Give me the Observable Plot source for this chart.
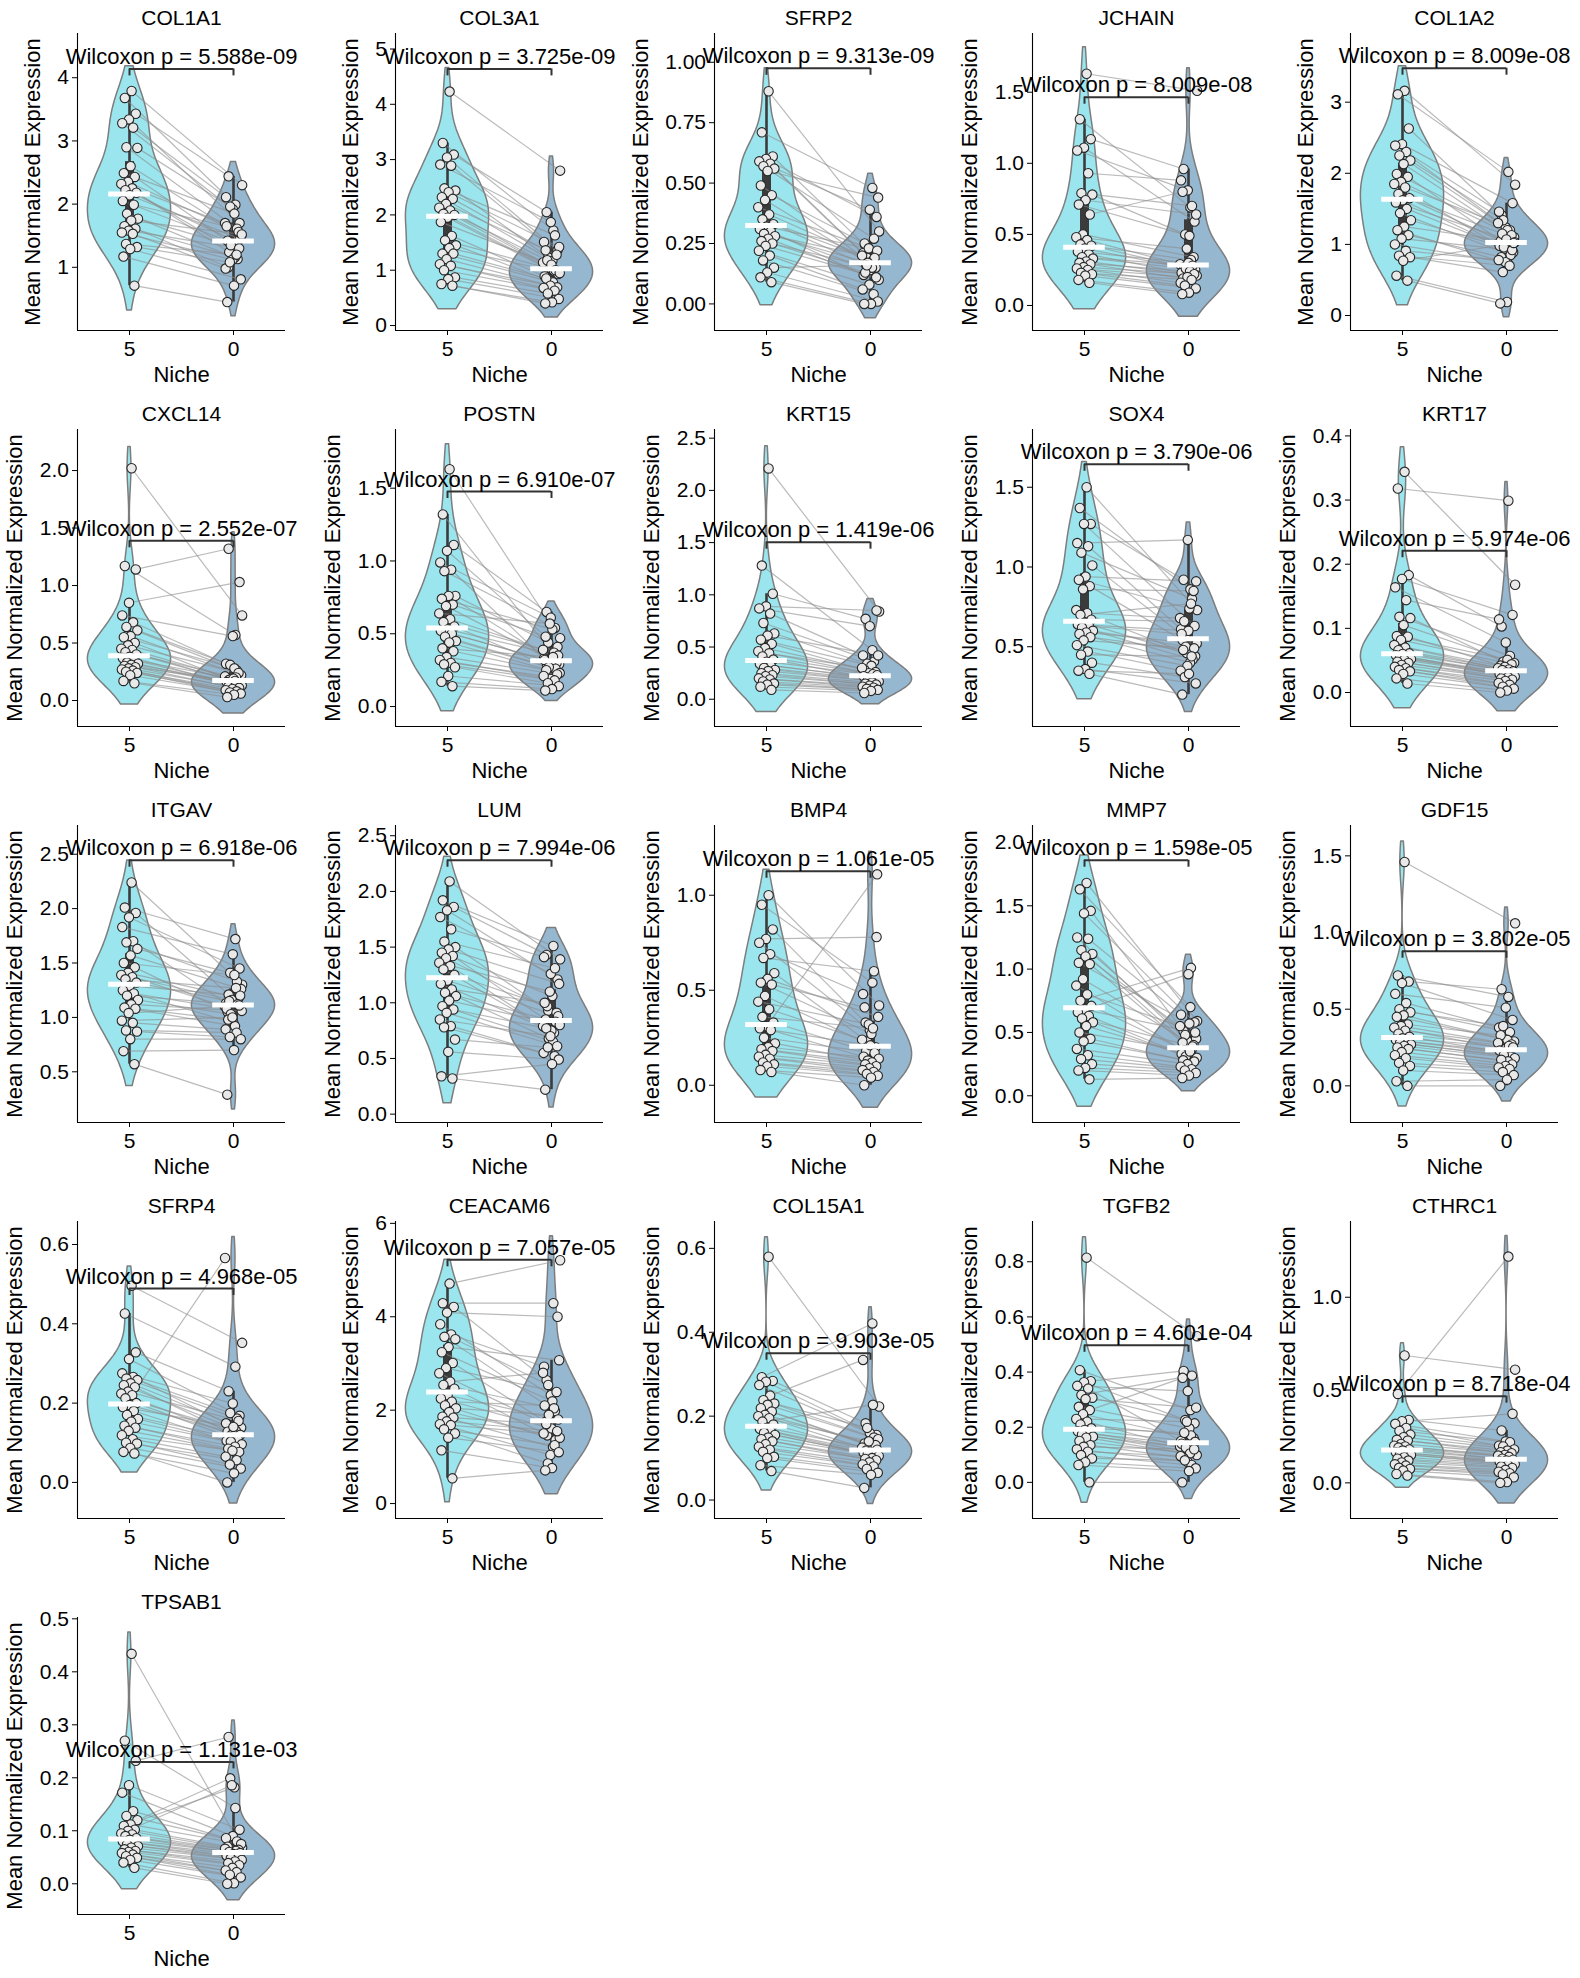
<!DOCTYPE html>
<html>
<head>
<meta charset="utf-8">
<script src="https://cdn.jsdelivr.net/npm/d3@7"></script>
<script src="https://cdn.jsdelivr.net/npm/@observablehq/plot@0.6"></script>
<style>
  body { margin: 0; background: #fff; }
  #grid { position: relative; width: 1580px; height: 1978px; background: #fff; }
  .panel { position: absolute; width: 318px; height: 396px; }
  .panel svg { max-width: none !important; }
</style>
</head>
<body>
<div id="grid"></div>
<script>
// Genes (one panel each), in reading order
const genes = ["COL1A1","COL3A1","SFRP2","JCHAIN","COL1A2",
  "CXCL14","POSTN","KRT15","SOX4","KRT17",
  "ITGAV","LUM","BMP4","MMP7","GDF15",
  "SFRP4","CEACAM6","COL15A1","TGFB2","CTHRC1",
  "TPSAB1"];

// Paired Wilcoxon test p-values as printed
const pLabels = ["5.588e-09","3.725e-09","9.313e-09","8.009e-08","8.009e-08",
  "2.552e-07","6.910e-07","1.419e-06","3.790e-06","5.974e-06",
  "6.918e-06","7.994e-06","1.061e-05","1.598e-05","3.802e-05",
  "4.968e-05","7.057e-05","9.903e-05","4.601e-04","8.718e-04",
  "1.131e-03"];

// Niche categories on the x axis
const niches = ["5", "0"];

// Mean normalized expression per sample in niche 5 (same sample order as niche 0)
const niche5 = [
  [3.79,3.68,3.43,3.34,3.28,3.21,2.90,2.89,2.60,2.49,2.43,2.35,2.32,2.25,2.22,2.18,2.14,2.05,1.99,1.85,1.77,1.74,1.65,1.61,1.58,1.55,1.53,1.37,1.32,1.29,1.17,0.71],
  [4.23,3.30,3.09,3.04,2.91,2.89,2.48,2.44,2.41,2.32,2.29,2.20,2.13,2.08,2.02,2.00,1.95,1.87,1.62,1.54,1.45,1.40,1.30,1.30,1.20,1.11,1.08,1.00,0.87,0.84,0.75,0.72],
  [0.88,0.71,0.61,0.60,0.59,0.58,0.57,0.56,0.55,0.49,0.45,0.43,0.40,0.37,0.35,0.33,0.32,0.31,0.30,0.29,0.28,0.27,0.26,0.25,0.24,0.22,0.20,0.18,0.15,0.13,0.11,0.09],
  [1.63,1.31,1.17,1.11,1.09,0.93,0.79,0.78,0.74,0.71,0.64,0.50,0.48,0.46,0.43,0.42,0.40,0.38,0.36,0.34,0.33,0.31,0.30,0.29,0.27,0.26,0.25,0.23,0.22,0.21,0.18,0.16],
  [3.16,3.11,2.63,2.41,2.39,2.30,2.25,2.18,2.13,1.99,1.95,1.88,1.85,1.80,1.71,1.65,1.62,1.59,1.50,1.44,1.34,1.25,1.20,1.13,1.08,1.00,0.91,0.84,0.82,0.77,0.56,0.49],
  [2.02,1.17,1.14,0.85,0.74,0.68,0.64,0.61,0.56,0.55,0.50,0.48,0.45,0.44,0.42,0.40,0.38,0.37,0.35,0.33,0.32,0.31,0.30,0.29,0.28,0.27,0.26,0.25,0.24,0.22,0.17,0.15],
  [1.63,1.32,1.11,1.07,0.99,0.94,0.93,0.76,0.76,0.74,0.70,0.69,0.64,0.60,0.58,0.55,0.53,0.52,0.50,0.48,0.45,0.44,0.40,0.38,0.34,0.32,0.30,0.29,0.27,0.21,0.17,0.14],
  [2.21,1.28,1.01,0.89,0.87,0.82,0.73,0.63,0.61,0.57,0.53,0.49,0.46,0.44,0.41,0.38,0.36,0.34,0.32,0.30,0.28,0.27,0.25,0.23,0.22,0.20,0.19,0.17,0.15,0.14,0.12,0.09],
  [1.50,1.37,1.27,1.27,1.15,1.13,1.09,1.01,0.94,0.92,0.88,0.86,0.73,0.71,0.70,0.67,0.65,0.64,0.63,0.62,0.60,0.59,0.58,0.56,0.54,0.51,0.47,0.45,0.40,0.36,0.35,0.33],
  [0.344,0.318,0.183,0.177,0.164,0.144,0.118,0.116,0.105,0.088,0.087,0.082,0.074,0.070,0.066,0.061,0.060,0.058,0.056,0.054,0.052,0.051,0.048,0.046,0.043,0.040,0.038,0.035,0.033,0.029,0.022,0.014],
  [2.24,2.01,1.96,1.92,1.83,1.70,1.69,1.63,1.57,1.50,1.46,1.41,1.39,1.37,1.35,1.32,1.29,1.25,1.22,1.20,1.16,1.12,1.09,1.08,1.04,0.97,0.95,0.88,0.87,0.80,0.69,0.57],
  [2.09,1.92,1.86,1.83,1.77,1.66,1.55,1.50,1.48,1.45,1.42,1.40,1.36,1.33,1.30,1.25,1.20,1.17,1.12,1.09,1.06,1.02,0.97,0.94,0.91,0.85,0.79,0.78,0.67,0.56,0.34,0.32],
  [1.00,0.95,0.82,0.77,0.75,0.69,0.67,0.59,0.56,0.54,0.53,0.47,0.44,0.40,0.36,0.33,0.31,0.30,0.29,0.25,0.22,0.20,0.19,0.18,0.16,0.15,0.14,0.12,0.11,0.10,0.08,0.07],
  [1.68,1.63,1.46,1.44,1.25,1.24,1.15,1.12,1.10,1.05,1.04,0.92,0.87,0.80,0.75,0.71,0.68,0.66,0.63,0.61,0.58,0.55,0.50,0.45,0.43,0.37,0.32,0.29,0.25,0.22,0.20,0.13],
  [1.46,0.72,0.68,0.67,0.60,0.54,0.50,0.48,0.46,0.45,0.40,0.39,0.38,0.36,0.34,0.32,0.31,0.30,0.29,0.28,0.27,0.26,0.25,0.24,0.22,0.20,0.18,0.15,0.13,0.10,0.03,0.00],
  [0.496,0.426,0.328,0.311,0.275,0.266,0.262,0.258,0.25,0.245,0.24,0.229,0.224,0.22,0.212,0.2,0.195,0.19,0.18,0.17,0.16,0.153,0.143,0.138,0.13,0.119,0.109,0.1,0.098,0.087,0.077,0.073],
  [4.71,4.29,4.21,4.09,3.84,3.62,3.57,3.52,3.35,3.24,3.01,2.90,2.79,2.61,2.54,2.46,2.32,2.25,2.18,2.10,2.04,1.96,1.86,1.84,1.76,1.70,1.68,1.59,1.50,1.41,1.14,0.54],
  [0.58,0.293,0.284,0.282,0.274,0.249,0.238,0.23,0.227,0.219,0.211,0.203,0.2,0.195,0.187,0.18,0.172,0.17,0.163,0.16,0.155,0.149,0.145,0.14,0.133,0.127,0.12,0.115,0.103,0.1,0.083,0.069],
  [0.815,0.407,0.367,0.363,0.35,0.34,0.317,0.307,0.302,0.274,0.262,0.247,0.23,0.22,0.21,0.196,0.19,0.185,0.178,0.174,0.166,0.162,0.15,0.135,0.129,0.12,0.111,0.099,0.087,0.073,0.063,0.0],
  [0.686,0.479,0.339,0.332,0.318,0.296,0.28,0.26,0.246,0.232,0.228,0.21,0.2,0.196,0.19,0.18,0.174,0.165,0.16,0.153,0.15,0.138,0.13,0.12,0.11,0.1,0.093,0.081,0.075,0.066,0.048,0.039],
  [0.434,0.27,0.232,0.186,0.172,0.137,0.128,0.12,0.112,0.109,0.102,0.1,0.095,0.093,0.09,0.086,0.083,0.08,0.077,0.074,0.071,0.068,0.065,0.062,0.06,0.058,0.055,0.052,0.049,0.045,0.04,0.03]
];

// Mean normalized expression per sample in niche 0 (paired with niche5 by index)
const niche0 = [
  [2.30,1.99,2.44,1.70,1.92,2.11,1.61,1.96,1.50,1.85,1.42,1.56,1.29,1.70,1.41,1.24,1.45,1.38,1.65,1.13,1.35,1.52,1.16,1.00,1.30,1.12,0.98,1.20,1.08,0.81,0.71,0.45],
  [2.80,1.72,2.05,1.36,1.87,1.51,1.63,1.23,1.42,1.17,1.36,1.28,1.05,1.14,0.99,1.18,0.93,1.10,0.89,1.00,0.81,0.95,0.78,0.85,0.69,0.72,0.68,0.63,0.58,0.48,0.42,0.40],
  [0.30,0.48,0.24,0.36,0.39,0.21,0.27,0.19,0.44,0.17,0.25,0.15,0.23,0.20,0.18,0.16,0.22,0.14,0.12,0.19,0.17,0.10,0.15,0.13,0.11,0.08,0.06,0.04,0.16,0.01,0.00,0.00],
  [1.51,0.69,0.96,0.59,0.81,0.88,0.70,0.50,0.64,0.49,0.80,0.34,0.40,0.29,0.32,0.27,0.25,0.30,0.23,0.28,0.26,0.21,0.24,0.19,0.22,0.20,0.16,0.18,0.14,0.12,0.09,0.08],
  [1.84,2.02,1.41,1.58,1.24,1.46,1.20,1.34,1.10,1.20,1.05,1.13,0.94,1.30,1.00,1.15,0.89,1.07,0.98,0.85,0.96,1.03,0.73,0.82,0.92,0.75,0.78,0.70,0.61,1.02,0.19,0.17],
  [0.74,0.57,1.32,1.03,0.56,0.32,0.26,0.31,0.22,0.28,0.19,0.24,0.17,0.21,0.20,0.18,0.12,0.19,0.16,0.15,0.14,0.13,0.17,0.12,0.11,0.10,0.09,0.08,0.07,0.06,0.05,0.03],
  [0.47,0.36,0.65,0.41,0.61,0.33,0.54,0.44,0.29,0.53,0.48,0.30,0.57,0.39,0.37,0.28,0.35,0.31,0.32,0.26,0.27,0.23,0.34,0.25,0.22,0.19,0.21,0.18,0.16,0.14,0.12,0.11],
  [0.84,0.47,0.77,0.85,0.70,0.42,0.36,0.34,0.42,0.32,0.28,0.26,0.25,0.30,0.24,0.21,0.23,0.20,0.22,0.19,0.18,0.17,0.16,0.15,0.14,0.13,0.12,0.11,0.10,0.09,0.08,0.06],
  [0.73,0.86,0.92,0.63,1.17,0.61,0.80,0.56,0.91,0.74,0.54,0.85,0.46,0.68,0.77,0.66,0.44,0.60,0.58,0.42,0.50,0.52,0.40,0.48,0.49,0.38,0.35,0.44,0.31,0.27,0.33,0.20],
  [0.168,0.299,0.103,0.121,0.078,0.114,0.057,0.048,0.046,0.051,0.042,0.044,0.040,0.038,0.036,0.035,0.033,0.031,0.029,0.030,0.027,0.025,0.024,0.022,0.020,0.018,0.015,0.012,0.009,0.006,0.003,0.000],
  [1.30,1.72,1.21,1.45,1.58,1.13,1.33,1.41,1.26,1.39,1.05,1.18,1.16,1.10,1.27,1.15,1.20,0.95,1.08,1.12,1.03,1.06,0.92,0.98,1.11,1.00,0.89,0.86,0.82,0.80,0.70,0.29],
  [1.39,1.51,1.43,1.21,1.26,1.41,1.31,0.93,1.17,1.06,0.85,0.91,1.10,0.79,0.73,0.97,0.88,0.75,1.00,0.83,0.68,0.80,0.65,0.77,0.61,0.70,0.55,0.52,0.60,0.49,0.45,0.22],
  [0.42,0.54,0.33,0.78,0.29,0.48,0.60,0.23,0.36,0.27,0.41,0.20,0.32,0.24,0.30,0.18,1.11,0.21,0.15,0.17,0.13,0.14,0.12,0.11,0.10,0.09,0.08,0.07,0.06,0.05,0.04,0.00],
  [0.59,0.70,0.51,0.58,0.43,0.64,0.37,0.48,0.45,0.57,0.42,0.40,0.34,0.55,1.01,0.36,0.50,0.96,0.33,0.39,0.31,0.30,0.35,0.28,0.27,0.25,0.23,0.21,0.20,0.18,0.16,0.14],
  [1.06,0.58,0.63,0.43,0.51,0.38,0.35,0.39,0.29,0.30,0.33,0.27,0.24,0.28,0.26,0.22,0.25,0.21,0.23,0.19,0.20,0.18,0.16,0.17,0.14,0.13,0.12,0.11,0.09,0.07,0.04,0.00],
  [0.352,0.292,0.23,0.168,0.199,0.149,0.161,0.175,0.138,0.135,0.128,0.155,0.12,0.566,0.13,0.115,0.12,0.14,0.105,0.11,0.103,0.096,0.09,0.085,0.077,0.08,0.065,0.056,0.045,0.035,0.023,0.0],
  [5.21,4.29,2.64,4.00,2.32,2.93,1.98,2.54,3.07,2.19,1.75,2.39,1.66,2.80,2.04,1.46,1.80,1.61,2.10,1.36,1.90,1.41,1.21,1.70,1.55,1.04,1.50,1.25,0.86,1.10,0.76,0.71],
  [0.223,0.421,0.183,0.155,0.16,0.334,0.149,0.172,0.145,0.128,0.135,0.131,0.14,0.125,0.227,0.118,0.12,0.115,0.113,0.107,0.11,0.105,0.1,0.098,0.095,0.09,0.085,0.08,0.074,0.065,0.06,0.029],
  [0.53,0.262,0.404,0.214,0.331,0.15,0.387,0.226,0.271,0.196,0.379,0.16,0.22,0.13,0.17,0.18,0.147,0.123,0.14,0.11,0.126,0.099,0.105,0.089,0.12,0.075,0.095,0.063,0.08,0.051,0.041,0.0],
  [0.61,1.219,0.282,0.372,0.224,0.2,0.219,0.196,0.18,0.174,0.165,0.16,0.15,0.147,0.14,0.13,0.125,0.12,0.115,0.11,0.106,0.1,0.095,0.088,0.08,0.07,0.06,0.052,0.045,0.03,0.004,0.0],
  [0.068,0.143,0.277,0.102,0.09,0.086,0.08,0.199,0.075,0.182,0.07,0.064,0.186,0.066,0.062,0.06,0.058,0.056,0.053,0.05,0.048,0.045,0.042,0.039,0.035,0.03,0.025,0.022,0.017,0.012,0.001,0.0]
];

// y-axis range, ticks and tick decimals per panel
const yDomains = [[0.0,4.70],[-0.09,5.28],[-0.110,1.119],[-0.176,1.913],[-0.211,3.966],
  [-0.226,2.357],[-0.137,1.903],[-0.261,2.583],[0.0,1.862],[-0.053,0.41],
  [0.034,2.764],[-0.075,2.592],[-0.196,1.367],[-0.211,2.134],[-0.239,1.698],
  [-0.091,0.658],[-0.32,6.04],[-0.044,0.664],[-0.131,0.946],[-0.192,1.408],
  [-0.058,0.5025]];
const yTicks = [[1,2,3,4],[0,1,2,3,4,5],[0,0.25,0.5,0.75,1],[0,0.5,1,1.5],[0,1,2,3],
  [0,0.5,1,1.5,2],[0,0.5,1,1.5],[0,0.5,1,1.5,2,2.5],[0.5,1,1.5],[0,0.1,0.2,0.3,0.4],
  [0.5,1,1.5,2,2.5],[0,0.5,1,1.5,2,2.5],[0,0.5,1],[0,0.5,1,1.5,2],[0,0.5,1,1.5],
  [0,0.2,0.4,0.6],[0,2,4,6],[0,0.2,0.4,0.6],[0,0.2,0.4,0.6,0.8],[0,0.5,1],
  [0,0.1,0.2,0.3,0.4,0.5]];
const tickDecimals = [0,0,2,1,0, 1,1,1,1,1, 1,1,1,1,1, 1,0,1,1,1, 1];

// Height of the significance bracket in each panel
const bracketY = [4.14,4.64,0.975,1.465,3.478,
  1.389,1.477,1.504,1.644,0.221,
  2.445,2.28,1.126,1.86,0.878,
  0.489,5.22,0.35,0.497,0.467,
  0.23];

const FONT = "'Liberation Sans', Arial, Helvetica, sans-serif";
const TICK_FONT = 21;
const fills = ["#9be6ee", "#95b7d0"];
const edge = "#7d7d7d";
const boxColor = "#3b3b3b";

// width of the widest tick label, used to set the y-label off from it
const measureCtx = document.createElement("canvas").getContext("2d");
measureCtx.font = `${TICK_FONT}px ${FONT}`;

// Gaussian KDE (Scott bandwidth), cut at one bandwidth, width-normalised
function violinShape(values, center) {
  const n = values.length;
  const bw = d3.deviation(values) * Math.pow(n, -0.2);
  const lo = d3.min(values) - bw, hi = d3.max(values) + bw;
  const grid = d3.range(100).map(i => lo + (hi - lo) * i / 99);
  const dens = grid.map(y => d3.sum(values, v => Math.exp(-0.5 * ((y - v) / bw) ** 2)));
  const peak = d3.max(dens);
  return grid.map((y, i) => ({y, x1: center - 0.4 * dens[i] / peak, x2: center + 0.4 * dens[i] / peak}));
}

function boxStats(values, center) {
  const s = values.slice().sort(d3.ascending);
  const q1 = d3.quantileSorted(s, 0.25), med = d3.quantileSorted(s, 0.5), q3 = d3.quantileSorted(s, 0.75);
  const lim = 1.5 * (q3 - q1);
  const lo = d3.min(s.filter(v => v >= q1 - lim));
  const hi = d3.max(s.filter(v => v <= q3 + lim));
  return {x: center, q1, med, q3, lo, hi};
}

// deterministic horizontal spread of the strip points
const spread = (i, g) => ((((i + 1) * 0.6180339887 + g * 0.37) % 1) - 0.5) * 0.17;

function panel(k) {
  const groups = [niche5[k], niche0[k]];
  const pts = groups.flatMap((vals, g) => vals.map((v, i) => ({x: g + spread(i, g), y: v, g, i})));
  const n = Math.min(groups[0].length, groups[1].length);
  const pairs = d3.range(n).map(i => ({
    x1: spread(i, 0), y1: groups[0][i],
    x2: 1 + spread(i, 1), y2: groups[1][i]
  }));
  const stats = groups.map((vals, g) => boxStats(vals, g));
  const b = bracketY[k];
  const dec = tickDecimals[k];
  const fmt = d => d.toFixed(dec);
  const tickW = d3.max(yTicks[k], t => measureCtx.measureText(fmt(t)).width);

  return Plot.plot({
    width: 318, height: 396,
    marginLeft: 77, marginRight: 33, marginTop: 33, marginBottom: 66,
    style: {fontFamily: FONT, fontSize: `${TICK_FONT}px`, color: "#000", background: "transparent", overflow: "visible", maxWidth: "none"},
    x: {domain: [-0.5, 1.5], label: null},
    y: {domain: yDomains[k], label: null},
    marks: [
      ...groups.map((vals, g) => Plot.areaX(violinShape(vals, g), {
        y: "y", x1: "x1", x2: "x2", fill: fills[g], stroke: edge, strokeWidth: 1.5, curve: "linear"
      })),
      Plot.ruleX(stats, {x: "x", y1: "lo", y2: "hi", stroke: boxColor, strokeWidth: 2.6}),
      Plot.ruleX(stats, {x: "x", y1: "q1", y2: "q3", stroke: boxColor, strokeWidth: 9}),
      Plot.link(pairs, {x1: "x1", y1: "y1", x2: "x2", y2: "y2", stroke: "#8c8c8c", strokeOpacity: 0.6, strokeWidth: 1.2}),
      Plot.dot(pts, {x: "x", y: "y", r: 4.7, fill: "#e9e9e9", stroke: "#262626", strokeWidth: 1.1}),
      Plot.ruleY(stats, {y: "med", x1: d => d.x - 0.2, x2: d => d.x + 0.2, stroke: "#ffffff", strokeWidth: 5}),
      // spines
      Plot.ruleX([-0.5], {stroke: "#000", strokeWidth: 1.1}),
      Plot.ruleY([yDomains[k][0]], {stroke: "#000", strokeWidth: 1.1}),
      Plot.axisX({ticks: [0, 1], tickFormat: i => niches[i], tickSize: 5, tickPadding: 6, fontSize: TICK_FONT, label: null, stroke: "#000"}),
      Plot.axisY({ticks: yTicks[k], tickFormat: fmt, tickSize: 5, tickPadding: 3.5, fontSize: TICK_FONT, label: null, stroke: "#000"}),
      // significance bracket
      Plot.ruleY([b], {x1: 0, x2: 1, stroke: "#333", strokeWidth: 2}),
      Plot.ruleX([0, 1], {y1: b, y2: b, insetBottom: -7, stroke: "#333", strokeWidth: 2}),
      Plot.text([`Wilcoxon p = ${pLabels[k]}`], {x: 0.5, y: b, text: d => d, lineAnchor: "bottom", dy: -5, fontSize: 22, fill: "#000"}),
      // titles
      Plot.text([genes[k]], {frameAnchor: "top", text: d => d, lineAnchor: "bottom", dy: -9, fontSize: 21, fill: "#000"}),
      Plot.text(["Niche"], {frameAnchor: "bottom", text: d => d, lineAnchor: "bottom", dy: 51, fontSize: 22, fill: "#000"}),
      Plot.text(["Mean Normalized Expression"], {frameAnchor: "left", text: d => d, rotate: -90, textAnchor: "middle", lineAnchor: "bottom", dx: -(tickW + 26), fontSize: 22, fill: "#000"})
    ]
  });
}

const grid = document.getElementById("grid");
genes.forEach((g, k) => {
  const r = Math.floor(k / 5), c = k % 5;
  const div = document.createElement("div");
  div.className = "panel";
  div.style.left = `${Math.round(c * 318.3)}px`;
  div.style.top = `${r * 396}px`;
  div.appendChild(panel(k));
  grid.appendChild(div);
});
</script>
</body>
</html>
